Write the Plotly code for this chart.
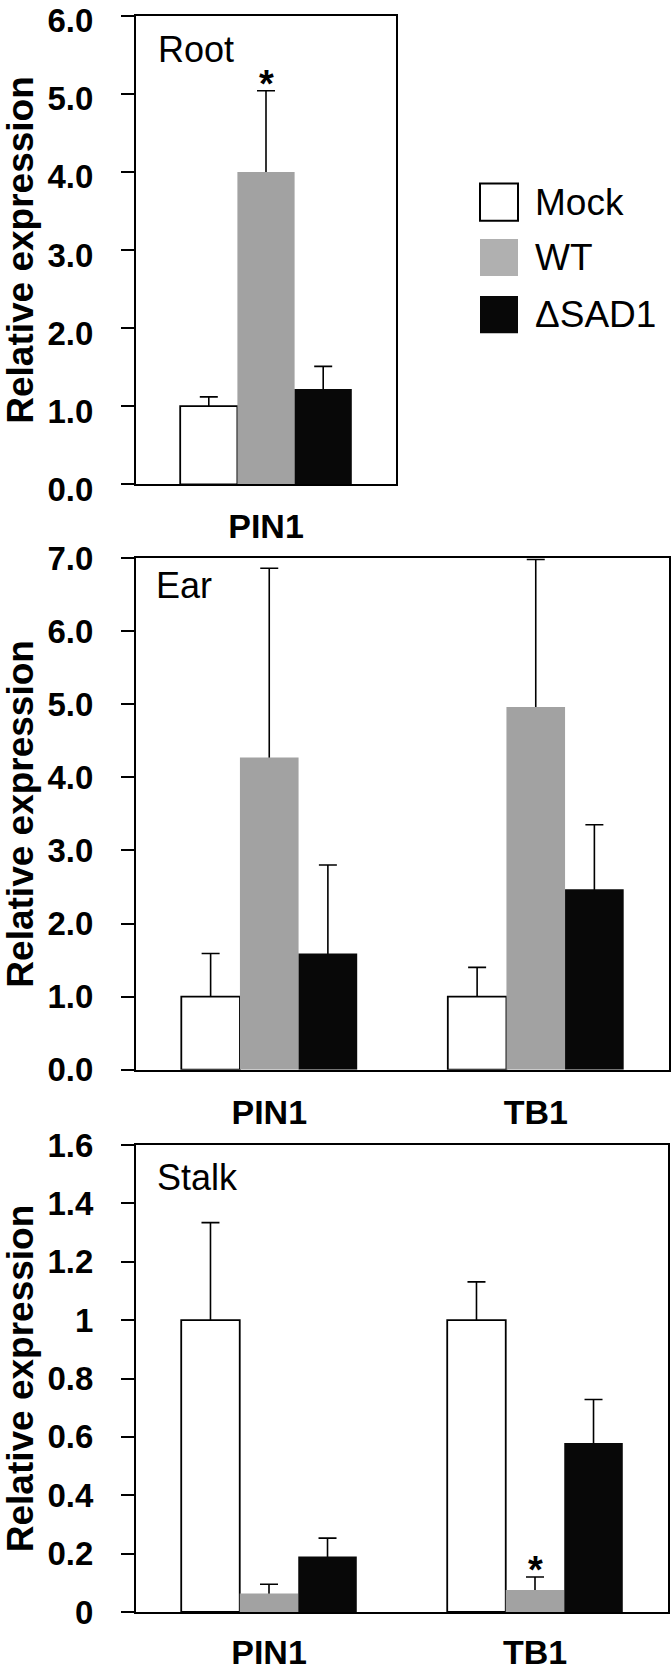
import plotly.graph_objects as go

W, H = 672, 1671

# ---------------- data ----------------
series = ["Mock", "WT", "ΔSAD1"]
bar_colors = ["#ffffff", "#a2a2a2", "#080808"]
legend_colors = ["#ffffff", "#b0b0b0", "#080808"]

root_genes = ["PIN1"]
root_mock = [1.00]
root_wt = [4.00]
root_sad1 = [1.22]
root_mock_err = [0.12]
root_wt_err = [1.04]
root_sad1_err = [0.29]

ear_genes = ["PIN1", "TB1"]
ear_mock = [1.00, 1.00]
ear_wt = [4.27, 4.96]
ear_sad1 = [1.59, 2.47]
ear_mock_err = [0.59, 0.40]
ear_wt_err = [2.59, 2.02]
ear_sad1_err = [1.21, 0.88]

stalk_genes = ["PIN1", "TB1"]
stalk_mock = [1.00, 1.00]
stalk_wt = [0.063, 0.075]
stalk_sad1 = [0.19, 0.579]
stalk_mock_err = [0.334, 0.131]
stalk_wt_err = [0.032, 0.045]
stalk_sad1_err = [0.063, 0.149]

# significance marks: (tissue, gene, series)
stars = [("Root", "PIN1", "WT"), ("Stalk", "TB1", "WT")]

panels = [
    dict(name="Root", genes=root_genes, means=[root_mock, root_wt, root_sad1],
         errs=[root_mock_err, root_wt_err, root_sad1_err], ymax=6.0, dtick=1.0, fmt=".1f",
         px_x=(136, 396), px_y=(15.7, 484.3), label_xy=(156, 49), xstand=11, yshift_lbl=5),
    dict(name="Ear", genes=ear_genes, means=[ear_mock, ear_wt, ear_sad1],
         errs=[ear_mock_err, ear_wt_err, ear_sad1_err], ymax=7.0, dtick=1.0, fmt=".1f",
         px_x=(136, 669), px_y=(558, 1069.7), label_xy=(154, 585), xstand=11, yshift_lbl=0),
    dict(name="Stalk", genes=stalk_genes, means=[stalk_mock, stalk_wt, stalk_sad1],
         errs=[stalk_mock_err, stalk_wt_err, stalk_sad1_err], ymax=1.6, dtick=0.2, fmt="",
         px_x=(136, 668), px_y=(1145, 1612), label_xy=(155, 1177), xstand=9, yshift_lbl=0),
]

FONT = "Liberation Sans, Arial, sans-serif"

fig = go.Figure()
layout = dict(
    width=W, height=H, margin=dict(l=0, r=0, t=0, b=0, autoexpand=False),
    paper_bgcolor="white", plot_bgcolor="white",
    barmode="group", bargap=0.34, bargroupgap=0.0,
    showlegend=False, font=dict(family=FONT, color="black"),
)

annotations = []
shapes = []

for k, p in enumerate(panels):
    sfx = "" if k == 0 else str(k + 1)
    xa, ya = "x" + sfx, "y" + sfx
    n = len(p["genes"])
    d = p["ymax"] * 0.01
    # hidden traces carrying the (upper) error bars, drawn underneath the bars
    for i, s in enumerate(series):
        fig.add_trace(go.Bar(
            x=p["genes"], y=[m - d for m in p["means"][i]],
            error_y=dict(type="data", symmetric=False,
                         array=[e + d for e in p["errs"][i]], arrayminus=[0] * n,
                         color="black", thickness=1.6, width=9),
            marker=dict(color="rgba(0,0,0,0)", line=dict(width=0)),
            offsetgroup=str(i), xaxis=xa, yaxis=ya, showlegend=False, hoverinfo="skip"))
    for i, s in enumerate(series):
        fig.add_trace(go.Bar(
            x=p["genes"], y=p["means"][i], name=s,
            marker=dict(color=bar_colors[i],
                        line=dict(color="black", width=1.8 if i == 0 else 0)),
            offsetgroup=str(i), xaxis=xa, yaxis=ya, showlegend=False))

    x0, x1 = p["px_x"]
    y0, y1 = p["px_y"]
    layout["xaxis" + sfx] = dict(
        domain=[x0 / W, x1 / W], anchor=ya, type="category", automargin=False,
        range=[-0.5, n - 0.5], showline=True, mirror=True, linecolor="black", linewidth=2,
        ticks="", showgrid=False, zeroline=False, ticklabelstandoff=p["xstand"],
        ticklabeloverflow="allow",
        tickfont=dict(family=FONT, size=34, color="black", weight="bold"))
    layout["yaxis" + sfx] = dict(
        domain=[1 - y1 / H, 1 - y0 / H], anchor=xa, range=[0, p["ymax"]], automargin=False,
        dtick=p["dtick"], tick0=0, tickformat=p["fmt"],
        showline=True, mirror=True, linecolor="black", linewidth=2,
        ticks="outside", ticklen=13, tickwidth=2, tickcolor="black",
        showgrid=False, zeroline=False, ticklabelstandoff=21, ticklabeloverflow="allow",
        ticklabelshift=p["yshift_lbl"],
        tickfont=dict(family=FONT, size=33, color="black", weight="bold"),
        title=dict(text="Relative expression", standoff=6,
                   font=dict(family=FONT, size=37, color="black", weight="bold")))

    lx, ly = p["label_xy"]
    annotations.append(dict(text=p["name"], xref="paper", yref="paper", x=lx / W, y=1 - ly / H,
                            xanchor="left", yanchor="middle", showarrow=False,
                            font=dict(family=FONT, size=36, color="black")))

    for (tissue, gene, s) in stars:
        if tissue == p["name"]:
            i = series.index(s)
            j = p["genes"].index(gene)
            annotations.append(dict(text="*", xref=xa, yref=ya, x=gene,
                                    y=p["means"][i][j] + p["errs"][i][j],
                                    yanchor="middle", showarrow=False, yshift=7,
                                    font=dict(family=FONT, size=38, color="black", weight="bold")))

# manual legend (large swatches as in the original)
leg_x0, leg_x1 = 480, 518
leg_rows = [(183.5, 220.7), (239, 276), (296, 333.3)]
for i, s in enumerate(series):
    t, b = leg_rows[i]
    shapes.append(dict(type="rect", xref="paper", yref="paper",
                       x0=leg_x0 / W, x1=leg_x1 / W, y0=1 - b / H, y1=1 - t / H,
                       fillcolor=legend_colors[i],
                       line=dict(color="black", width=2 if i == 0 else 0)))
    annotations.append(dict(text=s, xref="paper", yref="paper", x=533 / W, y=1 - (t + b) / 2 / H,
                            xanchor="left", yanchor="middle", showarrow=False,
                            font=dict(family=FONT, size=37, color="black")))

layout["annotations"] = annotations
layout["shapes"] = shapes
fig.update_layout(**layout)
fig.write_html("out.html", config={"displayModeBar": False},
               post_script="document.body.style.margin='0';document.body.style.overflow='hidden';")
